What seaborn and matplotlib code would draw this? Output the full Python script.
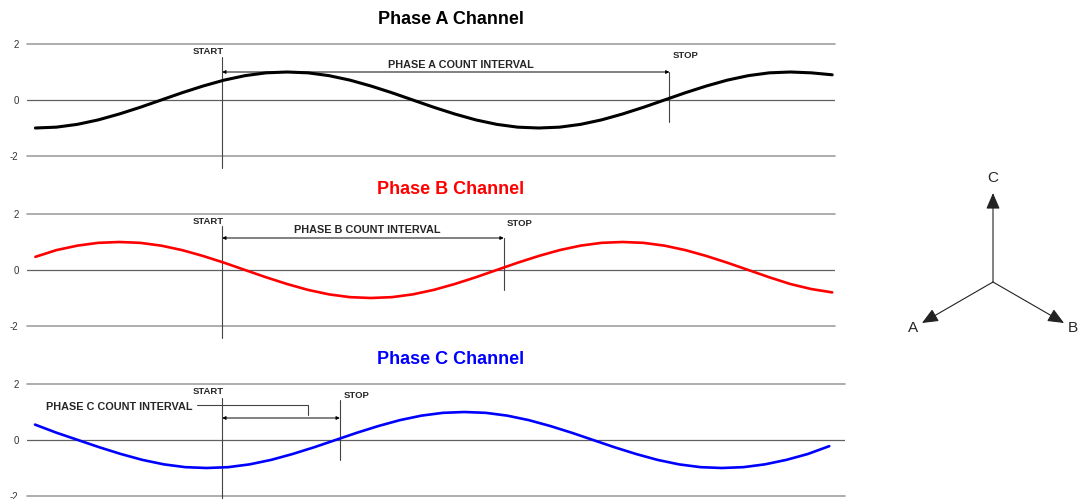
import numpy as np
import pandas as pd
import seaborn as sns
import matplotlib.pyplot as plt

# electrical angle (degrees) of each sample
angle = list(range(0, 571, 15))

# values
phase_a = [-1, -0.97, -0.87, -0.71, -0.5, -0.26, 0, 0.26, 0.5, 0.71, 0.87, 0.97, 1,
           0.97, 0.87, 0.71, 0.5, 0.26, 0, -0.26, -0.5, -0.71, -0.87, -0.97, -1,
           -0.97, -0.87, -0.71, -0.5, -0.26, 0, 0.26, 0.5, 0.71, 0.87, 0.97, 1, 0.97, 0.9]
phase_b = [0.47, 0.71, 0.87, 0.97, 1, 0.97, 0.87, 0.71, 0.5, 0.26, 0, -0.26, -0.5,
           -0.71, -0.87, -0.97, -1, -0.97, -0.87, -0.71, -0.5, -0.26, 0, 0.26, 0.5,
           0.71, 0.87, 0.97, 1, 0.97, 0.87, 0.71, 0.5, 0.26, 0, -0.26, -0.5, -0.68, -0.8]
phase_c = [0.55, 0.26, 0, -0.26, -0.5, -0.71, -0.87, -0.97, -1, -0.97, -0.87, -0.71, -0.5,
           -0.26, 0, 0.26, 0.5, 0.71, 0.87, 0.97, 1, 0.97, 0.87, 0.71, 0.5,
           0.26, 0, -0.26, -0.5, -0.71, -0.87, -0.97, -1, -0.97, -0.87, -0.71, -0.5, -0.22]

titles = ["Phase A Channel", "Phase B Channel", "Phase C Channel"]
colors = ["black", "#ff0000", "#0000ff"]
interval_labels = ["PHASE A COUNT INTERVAL", "PHASE B COUNT INTERVAL", "PHASE C COUNT INTERVAL"]
start_deg = [133.6, 133.6, 130.8]
stop_deg = [453.6, 335.0, 213.0]
label_deg = [304.6, 237.1, 7.7]
y_ticks = [-2, 0, 2]

phasor_names = ["A", "B", "C"]
phasor_angles = [210, 330, 90]


def px_to_data_y(px, top):
    # 112 px spans the -2..2 range of each panel
    return 2 - (px - top) * 4 / 112


def main():
    sns.set_style("white")
    plt.rcParams["font.family"] = ["Liberation Sans", "DejaVu Sans"]

    W, H = 1088, 499
    fig = plt.figure(figsize=(W / 100, H / 100), dpi=100)

    tops = [44, 214, 384]
    rights = [835, 835, 845]
    xlims = [(-6, 572), (-6, 572), (-5.6, 566)]
    series = [phase_a, phase_b, phase_c]

    for i in range(3):
        top = tops[i]
        ax = fig.add_axes([27 / W, 1 - (top + 112) / H, (rights[i] - 27) / W, 112 / H])
        n = len(series[i])
        df = pd.DataFrame({"angle": angle[:n], "value": series[i]})
        sns.lineplot(data=df, x="angle", y="value", ax=ax, color=colors[i],
                     lw=2.2 if i == 0 else 1.9, zorder=3)
        ax.set_xlim(*xlims[i])
        ax.set_ylim(-2, 2)
        ax.set_yticks(y_ticks)
        ax.set_yticklabels([str(t) for t in y_ticks], fontsize=7, color="#333333")
        ax.set_xticks([])
        ax.set_xlabel("")
        ax.set_ylabel("")
        ax.tick_params(axis="y", length=0, pad=6)
        for s in ax.spines.values():
            s.set_visible(False)
        ax.axhline(2, color="#a0a0a0", lw=1.2, zorder=1, clip_on=False)
        ax.axhline(-2, color="#a0a0a0", lw=1.2, zorder=1, clip_on=False)
        ax.axhline(0, color="#606060", lw=0.9, zorder=1)

        fig.text(451 / W, 1 - (top - 24) / H, titles[i], ha="center", va="center",
                 fontsize=13, fontweight="bold", color=colors[i])

        x0, x1 = start_deg[i], stop_deg[i]
        if i == 0:
            s_top, s_bot, st_y, sp_top, sp_bot, sp_y, arr_y, lab_y = 57, 168, 52, 72, 122, 55, 72, 65
        elif i == 1:
            s_top, s_bot, st_y, sp_top, sp_bot, sp_y, arr_y, lab_y = 226, 338, 222, 238, 290, 223, 238, 230
        else:
            s_top, s_bot, st_y, sp_top, sp_bot, sp_y, arr_y, lab_y = 398, 520, 392, 400, 460, 395, 418, 407

        # START / STOP markers
        ax.plot([x0, x0], [px_to_data_y(s_top, top), px_to_data_y(s_bot, top)],
                color="#444444", lw=0.8, clip_on=False, zorder=2)
        ax.text(x0 + 1, px_to_data_y(st_y, top), "START", ha="right", va="center",
                fontsize=6.8, fontweight="bold")
        ax.plot([x1, x1], [px_to_data_y(sp_top, top), px_to_data_y(sp_bot, top)],
                color="#444444", lw=0.8, clip_on=False, zorder=2)
        ax.text(x1 + 2.5, px_to_data_y(sp_y, top), "STOP", ha="left", va="center",
                fontsize=6.8, fontweight="bold")
        ya = px_to_data_y(arr_y, top)
        ax.annotate("", xy=(x1, ya), xytext=(x0, ya),
                    arrowprops=dict(arrowstyle="<|-|>", color="black", lw=0.7,
                                    mutation_scale=5, shrinkA=0, shrinkB=0))
        if i < 2:
            ax.text(label_deg[i], px_to_data_y(lab_y, top), interval_labels[i],
                    ha="center", va="center", fontsize=7.8, fontweight="bold")
        else:
            ax.text(label_deg[i], px_to_data_y(lab_y, top), interval_labels[i],
                    ha="left", va="center", fontsize=7.8, fontweight="bold")
            lx0 = (197 - 35) / 1.43
            lx1 = (308 - 35) / 1.43
            ax.plot([lx0, lx1, lx1],
                    [px_to_data_y(405, top), px_to_data_y(405, top), px_to_data_y(415, top)],
                    color="#444444", lw=0.8)

    # phasor diagram
    pax = fig.add_axes([880 / W, 1 - 340 / H, 208 / W, 180 / H])
    pax.set_xlim(880, 1088)
    pax.set_ylim(340, 160)
    pax.axis("off")
    ox, oy = 993, 282
    lengths = {"A": 82, "B": 82, "C": 89}
    label_off = {"A": (-9, 5), "B": (9, 5), "C": (0, -15)}
    for name, ang in zip(phasor_names, phasor_angles):
        L = lengths[name]
        tx = ox + L * np.cos(np.radians(ang))
        ty = oy - L * np.sin(np.radians(ang))
        pax.annotate("", xy=(tx, ty), xytext=(ox, oy),
                     arrowprops=dict(arrowstyle="-|>,head_length=0.7,head_width=0.3",
                                     color="#222222", lw=0.8,
                                     mutation_scale=14, shrinkA=0, shrinkB=0))
        dx, dy = label_off[name]
        pax.text(tx + dx, ty + dy, name, ha="center", va="center", fontsize=11)

    fig.savefig("out.png", dpi=100)


if __name__ == "__main__":
    main()
